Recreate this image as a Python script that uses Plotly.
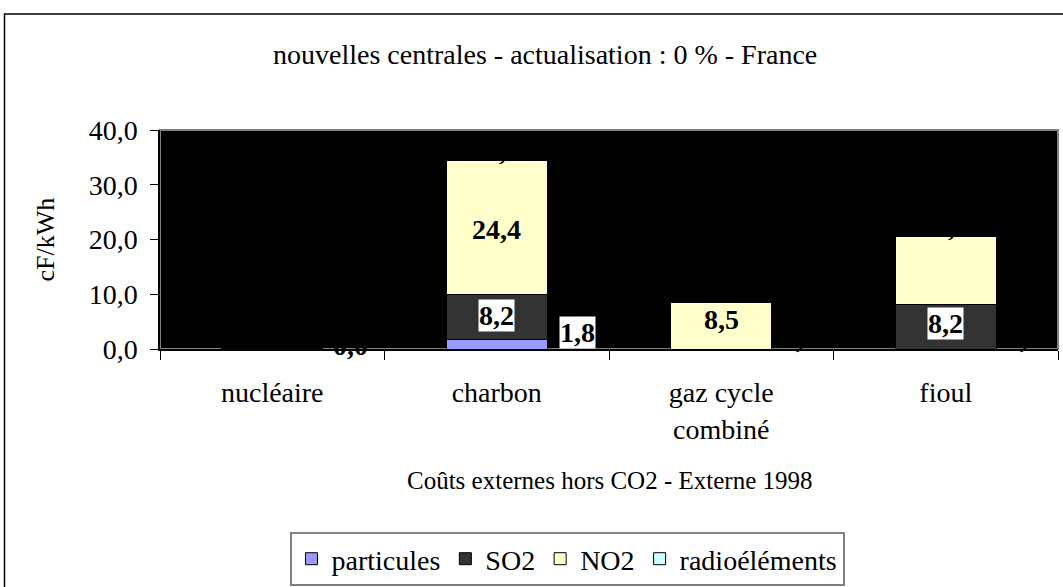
import plotly.graph_objects as go

categories = ["nucléaire", "charbon", "gaz cycle<br>combiné", "fioul"]
series_names = ["particules", "SO2", "NO2", "radioéléments"]
particules = [0.02, 1.8, 0.0, 0.0]
so2 = [0.01, 8.2, 0.0, 8.2]
no2 = [0.01, 24.4, 8.5, 12.3]
radio = [0.02, 0.0, 0.0, 0.0]
y_tickvals = [0, 10, 20, 30, 40]
y_ticktext = ["0,0", "10,0", "20,0", "30,0", "40,0"]

title_text = "nouvelles centrales - actualisation : 0 % - France"
x_title = "Coûts externes hors CO2 - Externe 1998"
y_title = "cF/kWh"

colors = ["#9999FF", "#333333", "#FFFFCC", "#CCFFFF"]
FONT = "Liberation Serif, Times New Roman, serif"

# plot area in page pixels
PL, PR, PT, PB = 160, 1058, 130, 349
W, H = 1063, 587
PW, PH = PR - PL, PB - PT


def px(xp):
    return (xp - PL) / PW


def py(yp):
    return (PB - yp) / PH


def fmt(v):
    return f"{v:.1f}".replace(".", ",")


fig = go.Figure()
all_series = [particules, so2, no2, radio]
for name, vals, col in zip(series_names, all_series, colors):
    fig.add_trace(go.Bar(
        name=name, x=categories, y=vals,
        marker=dict(color=col, line=dict(color="#000000", width=1)),
        width=0.45,
    ))

lab_font = dict(family=FONT, size=28, color="#000000")
# label vertical nudges (px) per series / category
so2_shift = [0, 1, 0, 3]
no2_shift = [0, -2, 6, 0]
ann = []
cum = [0.0] * len(categories)
for si, vals in enumerate(all_series):
    for ci, v in enumerate(vals):
        base = cum[ci]
        mid = base + v / 2
        cum[ci] += v
        txt = f"<b>{fmt(v)}</b>"
        if si == 0:
            # particules labels sit to the right of the bar
            if v >= 1:
                ann.append(dict(x=categories[ci], y=mid, text=txt, showarrow=False,
                                xshift=81, yshift=12, bgcolor="#FFFFFF", borderpad=0, font=lab_font))
            else:
                ann.append(dict(x=categories[ci], y=mid, text=txt, showarrow=False,
                                xshift=78, yshift=3 if ci == 0 else 11, borderpad=0, font=lab_font))
        elif si == 1:
            if v >= 1:
                ann.append(dict(x=categories[ci], y=mid, text=txt, showarrow=False,
                                yshift=so2_shift[ci], bgcolor="#FFFFFF", borderpad=0, font=lab_font))
        elif si == 2:
            if v >= 1 and ci != 3:
                ann.append(dict(x=categories[ci], y=mid, text=txt, showarrow=False,
                                yshift=no2_shift[ci], borderpad=0, font=lab_font))
        elif si == 3:
            if ci in (1, 3):
                ann.append(dict(x=categories[ci], y=cum[ci], text=txt, showarrow=False,
                                xshift=6, yshift=10, borderpad=0, font=lab_font))

ann.append(dict(text=title_text, xref="paper", yref="paper", x=px(545), y=py(55),
                showarrow=False, xanchor="center", yanchor="middle",
                font=dict(family=FONT, size=28, color="#000000")))
ann.append(dict(text=x_title, xref="paper", yref="paper", x=px(609), y=py(480),
                showarrow=False, xanchor="center", yanchor="middle",
                font=dict(family=FONT, size=25, color="#000000")))
ann.append(dict(text=y_title, xref="paper", yref="paper", x=px(45), y=0.5,
                showarrow=False, xanchor="center", yanchor="middle", textangle=-90,
                font=dict(family=FONT, size=26, color="#000000")))

fig.update_layout(
    width=W, height=H,
    margin=dict(l=PL, r=W - PR, t=PT, b=H - PB, autoexpand=False),
    paper_bgcolor="#FFFFFF", plot_bgcolor="#000000",
    barmode="stack",
    font=dict(family=FONT, size=28, color="#000000"),
    showlegend=True,
    legend=dict(orientation="h", x=px(567), y=py(559),
                xanchor="center", yanchor="middle",
                bgcolor="#FFFFFF", bordercolor="#808080", borderwidth=2,
                font=dict(family=FONT, size=28, color="#000000"),
                traceorder="normal", itemwidth=30, tracegroupgap=0),
    annotations=ann,
    shapes=[
        dict(type="rect", xref="paper", yref="paper", x0=0, x1=1, y0=0, y1=1,
             line=dict(color="#808080", width=2), layer="below"),
        dict(type="rect", xref="paper", yref="paper",
             x0=px(4.5), x1=1.2, y0=-1.5, y1=py(14),
             line=dict(color="#000000", width=1.5), fillcolor="rgba(0,0,0,0)", layer="below"),
    ],
)
fig.update_xaxes(
    type="category", tickson="boundaries", ticks="outside", ticklen=9, tickcolor="#000000",
    showline=True, linecolor="#000000", linewidth=1.5, showgrid=False,
    tickfont=dict(family=FONT, size=28, color="#000000"), ticklabelstandoff=18,
)
fig.update_yaxes(
    range=[0, 40], tickvals=y_tickvals, ticktext=y_ticktext, ticks="outside", ticklen=8,
    tickcolor="#000000", showline=True, linecolor="#000000", linewidth=1.5, showgrid=False,
    zeroline=False, tickfont=dict(family=FONT, size=28, color="#000000"), ticklabelstandoff=7,
)

fig.write_html("out.html", config={"displayModeBar": False},
               post_script="document.body.style.margin='0';")
